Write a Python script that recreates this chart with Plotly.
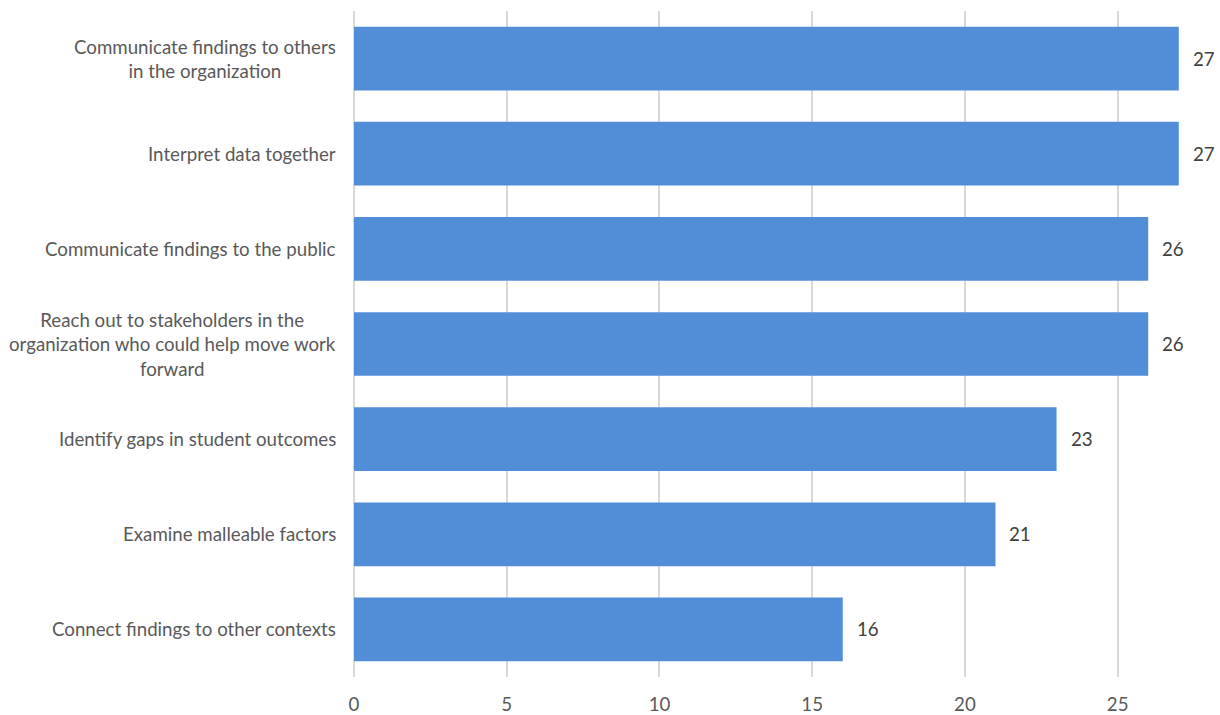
import plotly.graph_objects as go

categories = [
    "Communicate findings to others<br>in the organization",
    "Interpret data together",
    "Communicate findings to the public",
    "Reach out to stakeholders in the<br>organization who could help move work<br>forward",
    "Identify gaps in student outcomes",
    "Examine malleable factors",
    "Connect findings to other contexts",
]
values = [27, 27, 26, 26, 23, 21, 16]
x_ticks = [0, 5, 10, 15, 20, 25]

BAR = "#518ed7"
TXT = "#595959"
VAL = "#404040"
FONT = "Lato"
FS = 18.7

fig = go.Figure()
fig.add_trace(go.Bar(
    y=categories, x=values, orientation="h",
    marker=dict(color=BAR, line=dict(width=0)),
    hoverinfo="skip",
))

for c, v in zip(categories, values):
    fig.add_annotation(x=0, xref="paper", y=c, yref="y", text=c,
                       xanchor="right", yanchor="middle", align="center",
                       xshift=-16, showarrow=False,
                       font=dict(family=FONT, size=FS, color=TXT))
    fig.add_annotation(x=v, xref="x", y=c, yref="y", text=str(v),
                       xanchor="left", yanchor="middle", xshift=12,
                       showarrow=False,
                       font=dict(family=FONT, size=FS, color=VAL))

fig.update_layout(
    width=1220, height=715,
    margin=dict(l=354, r=0, t=11, b=36),
    paper_bgcolor="white", plot_bgcolor="white",
    bargap=0.33, showlegend=False,
    font=dict(family=FONT, size=FS, color=TXT),
)
fig.update_xaxes(range=[0, 28.35], tickvals=x_ticks, showgrid=True,
                 gridcolor="#d9d9d9", gridwidth=2, zeroline=True,
                 zerolinecolor="#d9d9d9", zerolinewidth=2,
                 showline=False, ticks="", ticklabelstandoff=14,
                 tickfont=dict(family=FONT, size=FS, color=TXT))
fig.update_yaxes(autorange="reversed", showticklabels=False,
                 showgrid=False, showline=False, ticks="", zeroline=False)

fig.write_html(
    "out.html",
    config={"displayModeBar": False},
    post_script="document.body.style.margin='0';document.body.style.overflow='hidden';",
)
